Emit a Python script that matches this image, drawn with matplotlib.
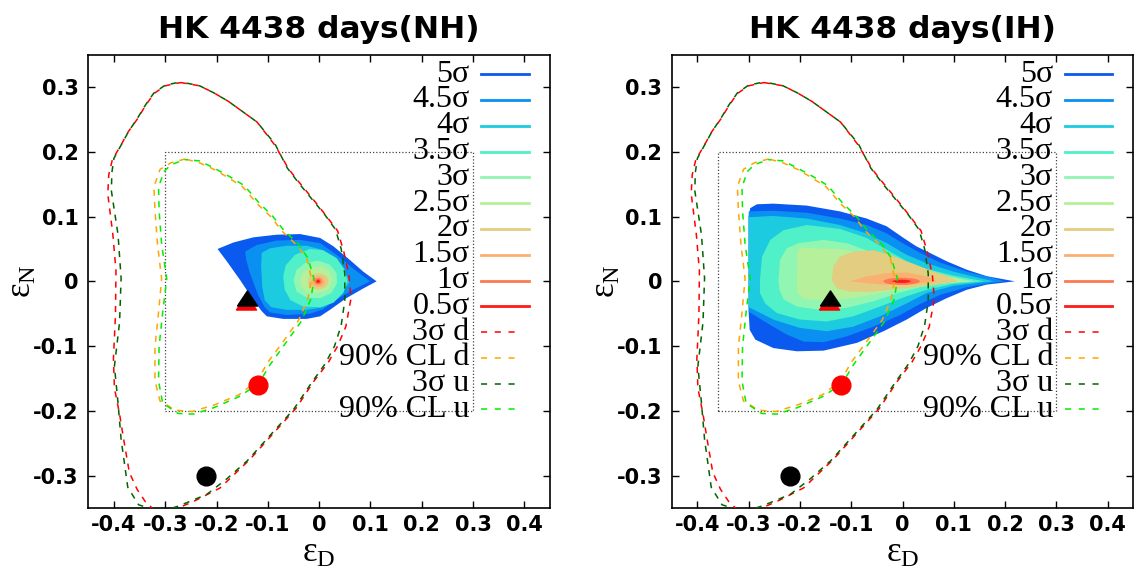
import numpy as np
import matplotlib.pyplot as plt
from matplotlib.patches import Polygon, Ellipse

plt.rcParams['axes.unicode_minus'] = False
plt.rcParams['mathtext.fontset'] = 'custom'
plt.rcParams['mathtext.rm'] = 'Liberation Serif'
plt.rcParams['mathtext.it'] = 'Liberation Serif'

# --- axes, ticks ---
x_ticks = [-0.4, -0.3, -0.2, -0.1, 0.0, 0.1, 0.2, 0.3, 0.4]
x_tick_labels = ['-0.4', '-0.3', '-0.2', '-0.1', '0', '0.1', '0.2', '0.3', '0.4']
y_ticks = [-0.3, -0.2, -0.1, 0.0, 0.1, 0.2, 0.3]
y_tick_labels = ['-0.3', '-0.2', '-0.1', '0', '0.1', '0.2', '0.3']

# --- contour levels (outer -> inner) ---
levels = ['5σ', '4.5σ', '4σ', '3.5σ', '3σ', '2.5σ', '2σ', '1.5σ', '1σ', '0.5σ']
fill_colors = ['#0a5af0', '#0a90f0', '#1ccbe0', '#50f0c8', '#90f6b2',
               '#b6f09a', '#e2cd80', '#f9b070', '#ff7850', '#ff1a1a']

# --- NH filled contours (eps_D, eps_N) ---
nh_5s = [(-0.198, 0.050), (-0.167, 0.060), (-0.128, 0.068), (-0.083, 0.072), (-0.037, 0.073),
         (0.002, 0.067), (0.028, 0.054), (0.060, 0.033), (0.086, 0.015), (0.112, 0.0),
         (0.086, -0.011), (0.053, -0.026), (0.021, -0.044), (0.002, -0.054), (-0.024, -0.058),
         (-0.070, -0.058), (-0.102, -0.054), (-0.112, -0.046), (-0.128, -0.029), (-0.154, 0.002),
         (-0.180, 0.031)]
nh_45s = [(-0.144, 0.046), (-0.122, 0.056), (-0.083, 0.063), (-0.037, 0.064), (0.002, 0.059),
          (0.034, 0.041), (0.066, 0.020), (0.099, 0.0), (0.066, -0.013), (0.034, -0.028),
          (0.008, -0.043), (-0.018, -0.050), (-0.063, -0.052), (-0.096, -0.048), (-0.106, -0.040),
          (-0.119, -0.021), (-0.135, 0.013), (-0.142, 0.033)]
nh_4s = [(-0.112, 0.044), (-0.096, 0.051), (-0.063, 0.055), (-0.024, 0.055), (0.005, 0.049),
         (0.028, 0.036), (0.047, 0.018), (0.060, 0.0), (0.047, -0.016), (0.028, -0.031),
         (0.008, -0.040), (-0.024, -0.044), (-0.063, -0.044), (-0.093, -0.040), (-0.106, -0.029),
         (-0.111, -0.008), (-0.113, 0.023)]
nh_35s = [(-0.070, 0.008), (-0.065, 0.025), (-0.047, 0.041), (-0.018, 0.050), (0.008, 0.048),
          (0.034, 0.036), (0.050, 0.018), (0.055, 0.0), (0.047, -0.018), (0.028, -0.033),
          (0.002, -0.040), (-0.031, -0.039), (-0.056, -0.029), (-0.067, -0.013)]
nh_3s = [(-0.050, 0.002), (-0.044, 0.018), (-0.028, 0.028), (-0.002, 0.032), (0.021, 0.026),
         (0.034, 0.013), (0.035, -0.003), (0.024, -0.018), (0.002, -0.026), (-0.024, -0.025),
         (-0.044, -0.016)]
nh_25s = [(-0.037, 0.002), (-0.031, 0.015), (-0.015, 0.022), (0.005, 0.023), (0.021, 0.015),
          (0.026, 0.0), (0.018, -0.013), (-0.002, -0.018), (-0.024, -0.016), (-0.035, -0.008)]
# innermost NH levels (2σ, 1.5σ, 1σ, 0.5σ) are small ellipses around the best fit
nh_core_centre = (-0.002, 0.0)
nh_core_w = [0.040, 0.026, 0.015, 0.007]
nh_core_h = [0.025, 0.017, 0.010, 0.005]

# --- IH filled contours ---
ih_5s = [(-0.300, 0.100), (-0.297, 0.113), (-0.284, 0.119), (-0.252, 0.120), (-0.187, 0.117),
         (-0.122, 0.108), (-0.070, 0.097), (-0.031, 0.085), (0.002, 0.067), (0.027, 0.054),
         (0.053, 0.044), (0.086, 0.031), (0.125, 0.018), (0.164, 0.008), (0.219, 0.0),
         (0.164, -0.005), (0.125, -0.013), (0.086, -0.026), (0.047, -0.041), (0.008, -0.059),
         (-0.037, -0.077), (-0.089, -0.095), (-0.154, -0.107), (-0.206, -0.108), (-0.252, -0.103),
         (-0.287, -0.090), (-0.298, -0.075), (-0.300, -0.049)]
ih_45s = [(-0.300, 0.108), (-0.252, 0.109), (-0.187, 0.106), (-0.122, 0.097), (-0.070, 0.087),
          (-0.031, 0.074), (0.002, 0.058), (0.034, 0.044), (0.073, 0.029), (0.125, 0.015),
          (0.177, 0.005), (0.198, 0.0), (0.177, -0.002), (0.125, -0.009), (0.073, -0.021),
          (0.034, -0.035), (-0.005, -0.052), (-0.057, -0.070), (-0.109, -0.085), (-0.154, -0.094),
          (-0.193, -0.093), (-0.226, -0.082), (-0.265, -0.064), (-0.300, -0.047)]
ih_4s = [(-0.300, 0.099), (-0.252, 0.101), (-0.187, 0.097), (-0.122, 0.087), (-0.070, 0.074),
         (-0.031, 0.059), (0.008, 0.041), (0.047, 0.028), (0.099, 0.015), (0.151, 0.005),
         (0.178, 0.0), (0.151, -0.002), (0.099, -0.007), (0.047, -0.018), (0.008, -0.034),
         (-0.044, -0.054), (-0.096, -0.070), (-0.148, -0.077), (-0.200, -0.072), (-0.252, -0.059),
         (-0.284, -0.046), (-0.300, -0.040)]
ih_35s = [(-0.278, 0.002), (-0.274, 0.038), (-0.258, 0.064), (-0.232, 0.079), (-0.187, 0.087),
          (-0.122, 0.081), (-0.070, 0.067), (-0.031, 0.049), (0.008, 0.031), (0.047, 0.019),
          (0.099, 0.009), (0.160, 0.0), (0.099, -0.004), (0.047, -0.013), (0.008, -0.023),
          (-0.044, -0.039), (-0.096, -0.054), (-0.148, -0.062), (-0.200, -0.059), (-0.245, -0.049),
          (-0.268, -0.034), (-0.278, -0.018)]
ih_3s = [(-0.242, 0.002), (-0.239, 0.033), (-0.226, 0.051), (-0.203, 0.059), (-0.154, 0.064),
         (-0.109, 0.059), (-0.057, 0.044), (-0.012, 0.028), (0.034, 0.017), (0.086, 0.008),
         (0.142, 0.0), (0.086, -0.003), (0.034, -0.009), (-0.012, -0.019), (-0.057, -0.031),
         (-0.109, -0.041), (-0.161, -0.044), (-0.206, -0.039), (-0.232, -0.028), (-0.240, -0.013)]
ih_25s = [(-0.205, 0.046), (-0.200, 0.052), (-0.122, 0.050), (-0.089, 0.045), (-0.044, 0.033),
          (0.008, 0.022), (0.060, 0.013), (0.105, 0.005), (0.125, 0.0), (0.105, -0.001),
          (0.060, -0.005), (0.008, -0.0105), (-0.044, -0.018), (-0.096, -0.026), (-0.148, -0.030),
          (-0.193, -0.027), (-0.205, -0.018), (-0.206, 0.002)]
ih_2s = [(-0.138, 0.002), (-0.135, 0.023), (-0.122, 0.038), (-0.096, 0.046), (-0.057, 0.048),
         (-0.024, 0.041), (0.008, 0.031), (0.047, 0.019), (0.086, 0.0085), (0.108, 0.0),
         (0.073, -0.004), (0.034, -0.008), (-0.012, -0.012), (-0.057, -0.016), (-0.102, -0.016),
         (-0.128, -0.011)]
ih_15s = [(-0.102, 0.0), (-0.070, 0.0075), (-0.031, 0.0126), (0.008, 0.0137), (0.047, 0.0075),
          (0.066, 0.0), (0.047, -0.0017), (0.008, -0.0053), (-0.031, -0.0053), (-0.070, -0.0027)]
ih_core_centre = (-0.002, 0.0)
ih_core_w = [0.071, 0.036]
ih_core_h = [0.011, 0.005]

# --- allowed regions (same in both panels) ---
cl3_d = [(-0.270, 0.307), (-0.233, 0.302), (-0.205, 0.291), (-0.177, 0.278), (-0.121, 0.246),
         (-0.086, 0.210), (-0.059, 0.173), (-0.038, 0.152), (-0.010, 0.125), (0.011, 0.104),
         (0.036, 0.078), (0.048, 0.046), (0.058, 0.010), (0.062, -0.027), (0.052, -0.070),
         (0.036, -0.100), (0.018, -0.125), (-0.010, -0.154), (-0.045, -0.196), (-0.093, -0.238),
         (-0.135, -0.275), (-0.193, -0.319), (-0.245, -0.340), (-0.281, -0.352), (-0.315, -0.358),
         (-0.339, -0.340), (-0.355, -0.321), (-0.370, -0.295), (-0.381, -0.244), (-0.389, -0.205),
         (-0.399, -0.165), (-0.401, -0.120), (-0.397, -0.052), (-0.396, 0.016), (-0.402, 0.072),
         (-0.412, 0.135), (-0.410, 0.165), (-0.403, 0.188), (-0.388, 0.208), (-0.372, 0.231),
         (-0.354, 0.251), (-0.338, 0.272), (-0.322, 0.290), (-0.300, 0.302), (-0.270, 0.307)]
cl3_u = [(-0.270, 0.308), (-0.233, 0.302), (-0.205, 0.291), (-0.177, 0.278), (-0.121, 0.246),
         (-0.086, 0.212), (-0.062, 0.175), (-0.040, 0.152), (-0.012, 0.125), (0.010, 0.104),
         (0.032, 0.080), (0.043, 0.050), (0.050, 0.012), (0.050, -0.030), (0.043, -0.068),
         (0.030, -0.100), (0.012, -0.127), (-0.015, -0.157), (-0.050, -0.198), (-0.098, -0.240),
         (-0.140, -0.277), (-0.180, -0.305), (-0.219, -0.329), (-0.274, -0.347), (-0.310, -0.356),
         (-0.352, -0.345), (-0.373, -0.318), (-0.386, -0.244), (-0.392, -0.188), (-0.399, -0.131),
         (-0.389, -0.063), (-0.386, 0.005), (-0.392, 0.072), (-0.405, 0.140), (-0.404, 0.168),
         (-0.400, 0.190), (-0.387, 0.209), (-0.371, 0.232), (-0.354, 0.252), (-0.338, 0.273),
         (-0.322, 0.291), (-0.300, 0.303), (-0.270, 0.308)]
cl90_d = [(-0.261, 0.189), (-0.289, 0.183), (-0.310, 0.173), (-0.322, 0.146), (-0.320, 0.110),
          (-0.315, 0.057), (-0.307, 0.004), (-0.313, -0.048), (-0.320, -0.101), (-0.320, -0.154),
          (-0.310, -0.185), (-0.280, -0.199), (-0.247, -0.201), (-0.205, -0.191), (-0.156, -0.175),
          (-0.121, -0.154), (-0.100, -0.125), (-0.070, -0.093), (-0.040, -0.060), (-0.022, -0.027),
          (-0.015, 0.004), (-0.024, 0.036), (-0.045, 0.057), (-0.073, 0.078), (-0.093, 0.099),
          (-0.121, 0.120), (-0.149, 0.146), (-0.177, 0.160), (-0.205, 0.173), (-0.233, 0.183),
          (-0.261, 0.189)]
cl90_u = [(-0.262, 0.188), (-0.289, 0.180), (-0.302, 0.170), (-0.313, 0.146), (-0.312, 0.110),
          (-0.307, 0.057), (-0.297, 0.004), (-0.305, -0.048), (-0.312, -0.101), (-0.313, -0.154),
          (-0.305, -0.188), (-0.275, -0.204), (-0.245, -0.205), (-0.205, -0.195), (-0.156, -0.178),
          (-0.118, -0.158), (-0.095, -0.128), (-0.065, -0.095), (-0.035, -0.062), (-0.016, -0.027),
          (-0.010, 0.004), (-0.022, 0.036), (-0.040, 0.057), (-0.070, 0.080), (-0.090, 0.100),
          (-0.118, 0.122), (-0.146, 0.148), (-0.175, 0.162), (-0.205, 0.175), (-0.233, 0.186),
          (-0.262, 0.188)]
region_labels = ['3σ d', '90% CL d', '3σ u', '90% CL u']
region_colors = ['#ff0000', '#ffa500', '#006400', '#00ee00']

# --- points ---
tri_black = (-0.141, -0.025)
tri_red = (-0.143, -0.032)
dot_red = (-0.120, -0.160)
dot_black = (-0.220, -0.300)

nh_box = ([-0.30, 0.30], [-0.20, 0.20])
ih_box = ([-0.36, 0.30], [-0.20, 0.20])

tri_marker = [(-1, -0.75), (1, -0.75), (0, 0.75), (-1, -0.75)]


def draw_panel(ax, title, polys, core_centre, core_w, core_h, box):
    n_poly = len(polys)
    for i, pts in enumerate(polys):
        ax.add_patch(Polygon(pts, closed=True, facecolor=fill_colors[i],
                             edgecolor='none', zorder=1 + i * 0.01))
    for j, (w, h) in enumerate(zip(core_w, core_h)):
        ax.add_patch(Ellipse(core_centre, w, h, facecolor=fill_colors[n_poly + j],
                             edgecolor='none', zorder=1.2 + j * 0.01))

    # dotted box
    bx, by = box
    ax.plot([bx[0], bx[1], bx[1], bx[0], bx[0]], [by[0], by[0], by[1], by[1], by[0]],
            color='#444444', lw=0.9, linestyle=(0, (1, 1.6)), zorder=2)

    # allowed-region curves
    curves = [cl3_d, cl90_d, cl3_u, cl90_u]
    for k, pts in enumerate(curves):
        xs = [p[0] for p in pts]
        ys = [p[1] for p in pts]
        off = 0 if k < 2 else 4
        ax.plot(xs, ys, color=region_colors[k], lw=1.1,
                linestyle=(off, (4, 4)), zorder=3)

    # points
    ax.plot(*tri_red, marker=tri_marker, color='#ff0000', ms=14.5, zorder=4, ls='none')
    ax.plot(*tri_black, marker=tri_marker, color='black', ms=14.5, zorder=4.1, ls='none')
    ax.plot(*dot_red, marker='o', color='#ff0000', ms=13.5, zorder=4, ls='none')
    ax.plot(*dot_black, marker='o', color='black', ms=13.5, zorder=4, ls='none')

    # key (gnuplot style)
    tx, lx0, lx1, dx1 = 0.826, 0.851, 0.954, 0.932
    y0, dy = 0.957, 0.0569
    keys = levels + region_labels
    for r, lab in enumerate(keys):
        y = y0 - r * dy
        ax.text(tx, y, lab, transform=ax.transAxes, ha='right', va='center',
                family='Liberation Serif', fontsize=23, zorder=5)
        if r < len(levels):
            ax.plot([lx0, lx1], [y, y], transform=ax.transAxes,
                    color=fill_colors[r], lw=2, zorder=5)
        else:
            ax.plot([lx0, dx1], [y, y], transform=ax.transAxes,
                    color=region_colors[r - len(levels)], lw=1.1,
                    linestyle=(0, (4, 5)), zorder=5)

    ax.set_xlim(-0.45, 0.45)
    ax.set_ylim(-0.35, 0.35)
    ax.set_xticks(x_ticks)
    ax.set_xticklabels(x_tick_labels)
    ax.set_yticks(y_ticks)
    ax.set_yticklabels(y_tick_labels)
    for lab in ax.get_xticklabels() + ax.get_yticklabels():
        lab.set_fontweight('bold')
        lab.set_fontsize(15)
    ax.tick_params(direction='in', top=True, right=True, length=5, width=1)
    ax.tick_params(axis='x', pad=5)
    ax.tick_params(axis='y', pad=7)
    for s in ax.spines.values():
        s.set_linewidth(1.2)
    ax.set_xlabel(r'$\mathrm{ε}_{\mathrm{D}}$', fontsize=25, labelpad=0)
    ax.set_ylabel(r'$\mathrm{ε}_{\mathrm{N}}$', fontsize=25)
    ax.yaxis.set_label_coords(-0.108, 0.5)
    ax.set_title(title, fontsize=22.5, fontweight='bold', pad=12)


fig = plt.figure(figsize=(11.42, 5.74), dpi=100)
ax1 = fig.add_axes([0.0773, 0.1150, 0.4043, 0.7897])
ax2 = fig.add_axes([0.5882, 0.1150, 0.4043, 0.7897])

draw_panel(ax1, 'HK 4438 days(NH)', [nh_5s, nh_45s, nh_4s, nh_35s, nh_3s, nh_25s],
           nh_core_centre, nh_core_w, nh_core_h, nh_box)
draw_panel(ax2, 'HK 4438 days(IH)', [ih_5s, ih_45s, ih_4s, ih_35s, ih_3s, ih_25s, ih_2s, ih_15s],
           ih_core_centre, ih_core_w, ih_core_h, ih_box)

fig.savefig('out.png', dpi=100)
